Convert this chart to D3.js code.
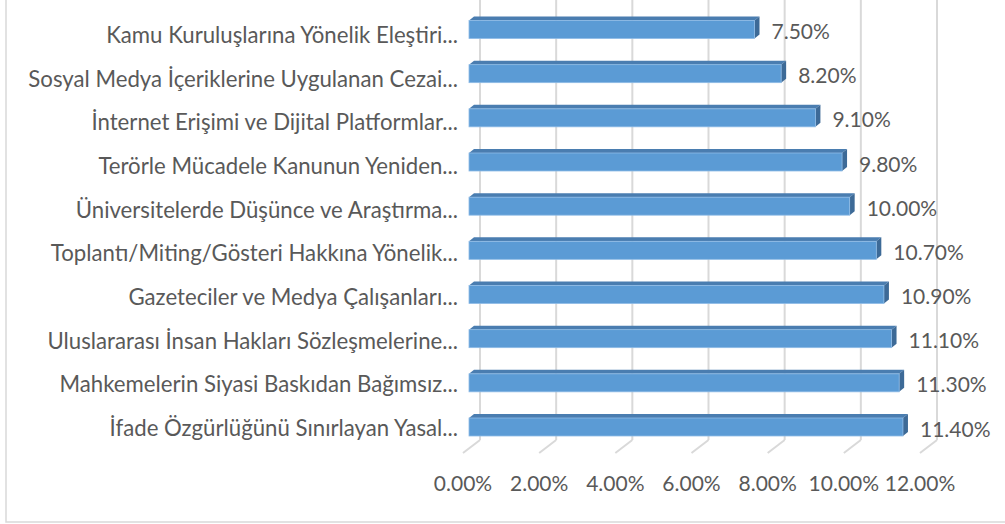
<!DOCTYPE html>
<html>
<head>
<meta charset="utf-8">
<script src="https://cdn.jsdelivr.net/npm/d3@7"></script>
<style>
  html, body { margin: 0; padding: 0; background: #fff; }
  svg { display: block; }
</style>
</head>
<body>
<svg id="chart" width="1005" height="524"></svg>
<script>
const categories = [
  "Kamu Kuruluşlarına Yönelik Eleştiri...",
  "Sosyal Medya İçeriklerine Uygulanan Cezai...",
  "İnternet Erişimi ve Dijital Platformlar...",
  "Terörle Mücadele Kanunun Yeniden...",
  "Üniversitelerde Düşünce ve Araştırma...",
  "Toplantı/Miting/Gösteri Hakkına Yönelik...",
  "Gazeteciler ve Medya Çalışanları...",
  "Uluslararası İnsan Hakları Sözleşmelerine...",
  "Mahkemelerin Siyasi Baskıdan Bağımsız...",
  "İfade Özgürlüğünü Sınırlayan Yasal..."
];
const values = [7.5, 8.2, 9.1, 9.8, 10.0, 10.7, 10.9, 11.1, 11.3, 11.4];
const ticks = [0, 2, 4, 6, 8, 10, 12];

const svg = d3.select("#chart");
const textColor = "#595959";
const gridColor = "#d9d9d9";
const fontFamily = "Lato, 'Noto Sans', sans-serif";

// scales: back wall, floor front edge, bar front face
const xBack = d3.scaleLinear().domain([0, 12]).range([480, 937]);
const xFloor = d3.scaleLinear().domain([0, 12]).range([463, 920]);
const xBar = d3.scaleLinear().domain([0, 12]).range([469, 925.8]);
const yBar = d3.scalePoint().domain(categories).range([29.5, 427]);
const yLab = d3.scalePoint().domain(categories).range([43, 436]);

// chart border
svg.append("rect")
  .attr("x", 6).attr("y", -5).attr("width", 1010).attr("height", 527)
  .attr("fill", "none").attr("stroke", gridColor).attr("stroke-width", 1.5);

// gridlines (back wall + floor)
const wallBottom = 440, floorFront = 453;
const g = svg.append("g");
g.selectAll("line.wall").data(ticks).join("line")
  .attr("class", "wall")
  .attr("x1", d => xBack(d)).attr("x2", d => xBack(d))
  .attr("y1", 0).attr("y2", wallBottom)
  .attr("stroke", gridColor).attr("stroke-width", 2);
g.selectAll("line.floor").data(ticks).join("line")
  .attr("class", "floor")
  .attr("x1", d => xBack(d)).attr("x2", d => xFloor(d))
  .attr("y1", wallBottom).attr("y2", floorFront)
  .attr("stroke", gridColor).attr("stroke-width", 2);

// bars (3D)
const bh = 18, dx = 5, dy = 4;
const rows = categories.map((c, i) => ({c, v: values[i]}));
const bars = svg.append("g").selectAll("g").data(rows).join("g");
bars.append("polygon")
  .attr("points", d => {
    const x0 = xBar(0), x1 = xBar(d.v), t = yBar(d.c) - bh / 2;
    return [[x0, t], [x0 + dx, t - dy], [x1 + dx, t - dy], [x1, t]].map(p => p.join(",")).join(" ");
  })
  .attr("fill", "#4a7db0");
bars.append("polygon")
  .attr("points", d => {
    const x1 = xBar(d.v), t = yBar(d.c) - bh / 2, b = t + bh;
    return [[x1, t], [x1 + dx, t - dy], [x1 + dx, b - dy], [x1, b]].map(p => p.join(",")).join(" ");
  })
  .attr("fill", "#3d6a97");
bars.append("rect")
  .attr("x", xBar(0))
  .attr("y", d => yBar(d.c) - bh / 2)
  .attr("width", d => xBar(d.v) - xBar(0))
  .attr("height", bh)
  .attr("fill", "#5b9bd5")
  .attr("stroke", "#8ebbe6").attr("stroke-width", 0.8);

// value labels
svg.append("g").selectAll("text").data(rows).join("text")
  .attr("x", d => xBar(d.v) + 17)
  .attr("y", d => yBar(d.c) + 9.5)
  .attr("fill", textColor)
  .style("font-family", fontFamily).style("font-size", "21px")
  .text(d => d.v.toFixed(2) + "%");

// category labels
svg.append("g").selectAll("text").data(categories).join("text")
  .attr("x", 458)
  .attr("y", d => yLab(d))
  .attr("text-anchor", "end")
  .attr("fill", textColor)
  .style("font-family", fontFamily).style("font-size", "22.2px")
  .text(d => d);

// x tick labels
svg.append("g").selectAll("text").data(ticks).join("text")
  .attr("x", d => xFloor(d))
  .attr("y", 491)
  .attr("text-anchor", "middle")
  .attr("fill", textColor)
  .style("font-family", fontFamily).style("font-size", "21px")
  .text(d => d.toFixed(2) + "%");
</script>
</body>
</html>
